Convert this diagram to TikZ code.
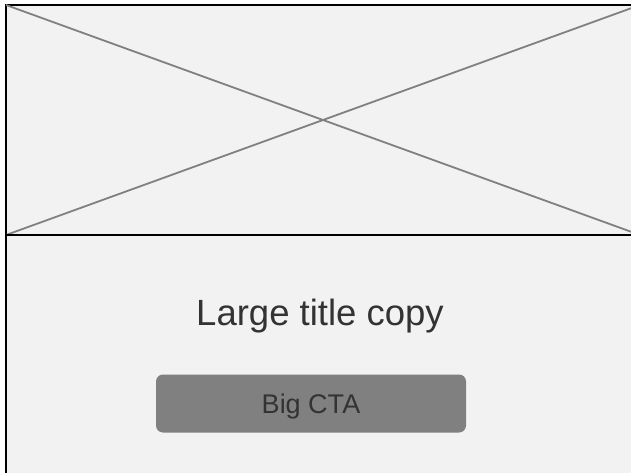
\documentclass[tikz,border=0pt]{standalone}
\usepackage{fontspec}
\setmainfont{Liberation Sans}
\usepackage{xcolor}
\usepackage{tikz}

\definecolor{panelfill}{HTML}{F2F2F2}
\definecolor{crossgrey}{HTML}{808080}
\definecolor{ctafill}{HTML}{808080}
\definecolor{inkgrey}{HTML}{333333}

\tikzset{
  panel/.style={draw=black, line width=2pt, fill=panelfill},
  cross/.style={draw=crossgrey, line width=1.8pt},
  titletext/.style={text=inkgrey, font=\fontsize{36.5}{40}\selectfont, inner sep=0pt},
  ctabutton/.style={fill=ctafill, rounded corners=7pt, minimum width=310pt,
    minimum height=58pt, text=inkgrey, font=\fontsize{27}{30}\selectfont,
    inner sep=0pt, text depth=0pt}
}

\begin{document}
\begin{tikzpicture}[x=1pt, y=-1pt]
  \useasboundingbox (0,0) rectangle (631,473);
  \clip (0,0) rectangle (631,473);
  % image placeholder
  \draw[panel] (6,5) rectangle (640,235);
  \draw[cross] (6,5) -- (640,235);
  \draw[cross] (6,235) -- (640,5);
  % lower panel
  \draw[panel] (6,235) rectangle (640,490);
  \node[titletext, anchor=base] (title) at (320,325) {Large title copy};
  \node[ctabutton] (cta) at (311,403.5) {Big CTA};
\end{tikzpicture}
\end{document}
